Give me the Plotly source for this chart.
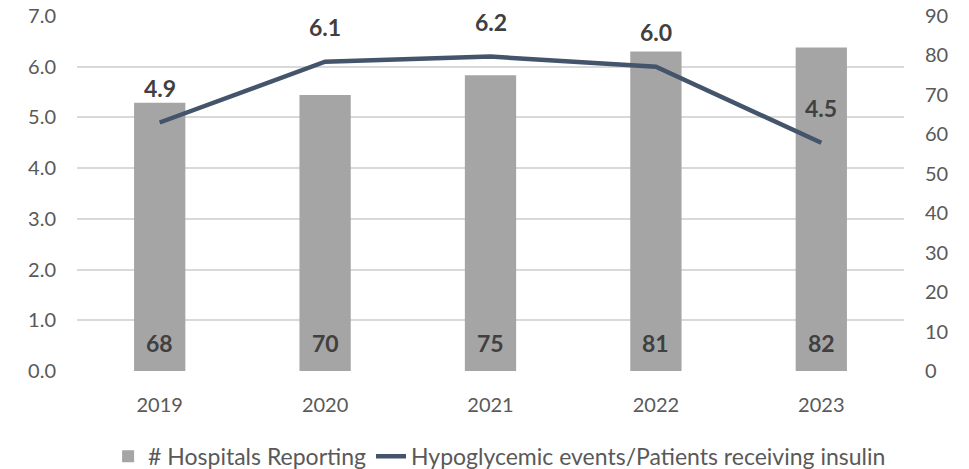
import plotly.graph_objects as go

years = ["2019", "2020", "2021", "2022", "2023"]
hospitals = [68, 70, 75, 81, 82]
hypo_rate = [4.9, 6.1, 6.2, 6.0, 4.5]
left_ticks = [0, 1, 2, 3, 4, 5, 6, 7]
right_ticks = [0, 10, 20, 30, 40, 50, 60, 70, 80, 90]

FONT = "Lato, 'Open Sans', sans-serif"
LABEL = "#404040"

fig = go.Figure()
# bars on the base axis (right-hand scale 0-90)
fig.add_trace(go.Bar(
    x=years, y=hospitals, name="# Hospitals Reporting",
    marker=dict(color="#a5a5a5", line=dict(width=0)),
    width=0.31, xaxis="x", yaxis="y",
))
# line on the overlaying axis (left-hand scale 0-7), drawn above the bars
fig.add_trace(go.Scatter(
    x=years, y=hypo_rate, name="Hypoglycemic events/Patients receiving insulin",
    mode="lines", line=dict(color="#44546a", width=4.5),
    xaxis="x", yaxis="y2", cliponaxis=False,
))

for i, v in enumerate(hypo_rate):
    fig.add_annotation(
        x=i, y=v, xref="x", yref="y2", text=f"<b>{v:.1f}</b>",
        showarrow=False, yshift=35,
        font=dict(size=23, color=LABEL, family=FONT),
    )
for i, h in enumerate(hospitals):
    fig.add_annotation(
        x=i, y=0, xref="x", yref="y", text=f"<b>{h}</b>",
        showarrow=False, yshift=28,
        font=dict(size=23, color=LABEL, family=FONT),
    )

fig.update_layout(
    width=969, height=469,
    margin=dict(l=77, r=65, t=16, b=98, autoexpand=False),
    plot_bgcolor="white", paper_bgcolor="white",
    font=dict(family=FONT, size=20, color="#595959"),
    xaxis=dict(type="category", categoryorder="array", categoryarray=years,
               range=[-0.5, len(years) - 0.5], automargin=False,
               showgrid=False, showline=False, ticks="", tickfont=dict(size=20),
               ticklabelstandoff=20),
    yaxis=dict(range=[0, 90], tickvals=right_ticks, side="right", automargin=False,
               showgrid=False, zeroline=False, showline=False, ticks="",
               ticklabelstandoff=20),
    yaxis2=dict(range=[0, 7], tickvals=left_ticks, tickformat=".1f",
                overlaying="y", side="left", anchor="x", automargin=False,
                showgrid=True, gridcolor="#d9d9d9", gridwidth=1.5,
                zeroline=False, showline=False, ticks="", ticklabelstandoff=20),
    legend=dict(orientation="h", x=0.511, xanchor="center", y=-0.24, yanchor="middle",
                font=dict(size=23, color="#595959"), traceorder="normal"),
    showlegend=True,
)

fig.write_html("out.html")
